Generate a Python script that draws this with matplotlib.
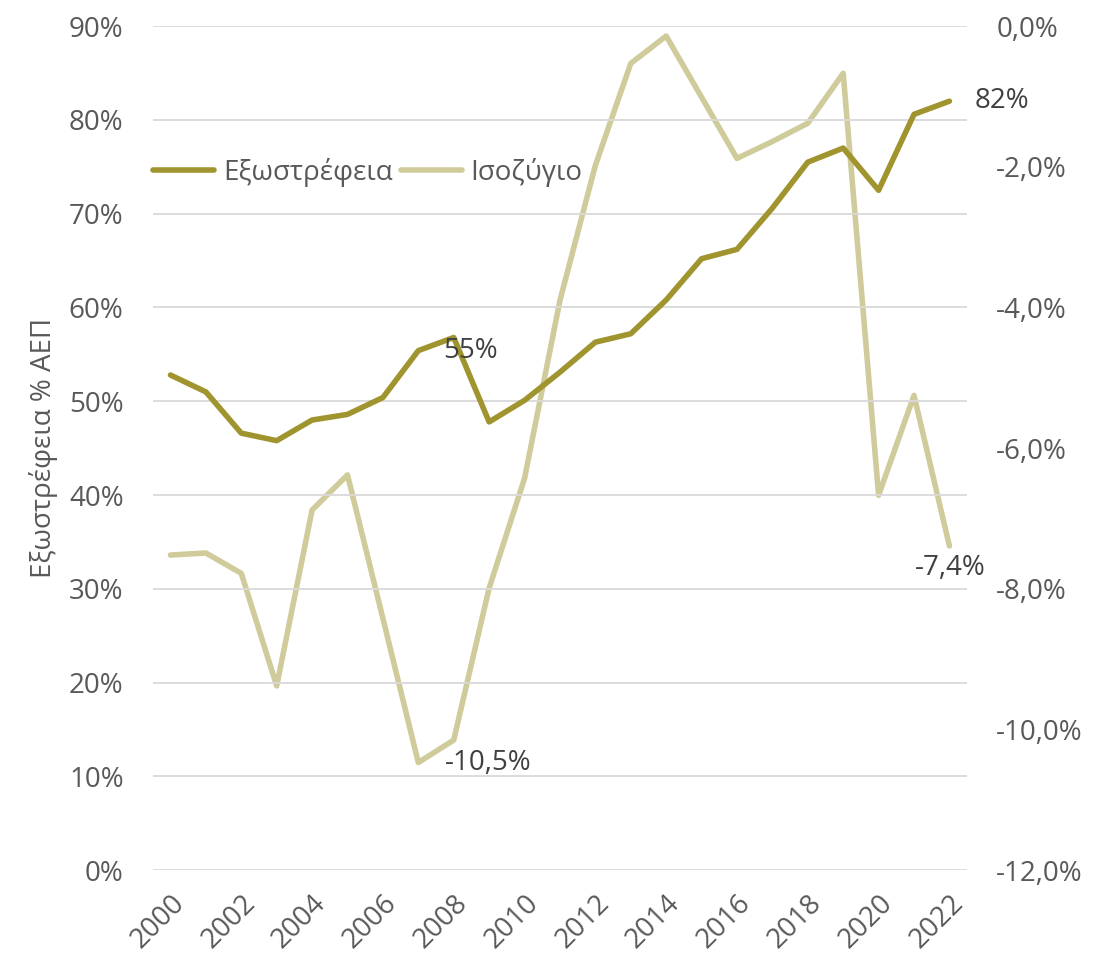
import matplotlib.pyplot as plt
from matplotlib.ticker import FuncFormatter
from matplotlib.lines import Line2D

years = list(range(2000, 2023))
# Εξωστρέφεια (% ΑΕΠ), left axis
exports = [52.8, 51.0, 46.6, 45.8, 48.0, 48.6, 50.4, 55.4, 56.8, 47.8, 50.1, 53.1,
           56.3, 57.2, 60.8, 65.2, 66.2, 70.6, 75.5, 77.0, 72.5, 80.6, 82.0]
# Ισοζύγιο (% ΑΕΠ), right axis
balance = [-7.52, -7.49, -7.78, -9.38, -6.88, -6.38, -8.42, -10.47, -10.15, -7.99,
           -6.43, -3.90, -1.98, -0.53, -0.14, -1.01, -1.88, -1.64, -1.38, -0.67,
           -6.67, -5.25, -7.39]

c_dark = '#A0942F'
c_light = '#CFCB9B'
c_text = '#595959'
c_grid = '#D9D9D9'

plt.rcParams['font.family'] = ['Open Sans', 'DejaVu Sans']
fs = 20

fig = plt.figure(figsize=(10.99, 9.69), dpi=100)
ax = fig.add_axes([0.139, 0.102, 0.741, 0.871])
ax2 = ax.twinx()

ax.plot(years, exports, color=c_dark, lw=4, solid_capstyle='round', zorder=3)
ax2.plot(years, balance, color=c_light, lw=4, solid_capstyle='round', zorder=2)
ax.set_zorder(ax2.get_zorder() + 1)
ax.patch.set_visible(False)

ax.set_xlim(1999.5, 2022.5)
ax.set_ylim(0, 90)
ax2.set_ylim(-12, 0)
ax.set_yticks(range(0, 91, 10))
ax2.set_yticks(range(-12, 1, 2))
ax.yaxis.set_major_formatter(FuncFormatter(lambda v, p: f'{v:.0f}%'))
ax2.yaxis.set_major_formatter(FuncFormatter(lambda v, p: f'{v:.1f}%'.replace('.', ',')))
ax.set_xticks(years[::2])
ax.set_xticklabels([str(y) for y in years[::2]], rotation=45, ha='right', rotation_mode='anchor')

ax.grid(axis='y', color=c_grid, lw=1.3)
ax.set_axisbelow(True)
for a in (ax, ax2):
    for s in a.spines.values():
        s.set_visible(False)
    a.tick_params(length=0, colors=c_text, labelsize=fs)
ax.tick_params(axis='y', pad=21)
ax2.tick_params(axis='y', pad=21)
ax.tick_params(axis='x', pad=14)

ax.set_ylabel('Εξωστρέφεια % ΑΕΠ', color=c_text, fontsize=fs, labelpad=8)

# data labels
ax.annotate('55%', xy=(2007, exports[7]), xytext=(52, 0), textcoords='offset pixels',
            ha='center', va='center', color='#404040', fontsize=fs)
ax.annotate('82%', xy=(2022, exports[22]), xytext=(53, 0), textcoords='offset pixels',
            ha='center', va='center', color='#404040', fontsize=fs)
ax2.annotate('-10,5%', xy=(2007, balance[7]), xytext=(70, 0), textcoords='offset pixels',
             ha='center', va='center', color='#404040', fontsize=fs)
ax2.annotate('-7,4%', xy=(2022, balance[22]), xytext=(1, -22), textcoords='offset pixels',
             ha='center', va='center', color='#404040', fontsize=fs)

handles = [Line2D([], [], color=c_dark, lw=4, solid_capstyle='round'),
           Line2D([], [], color=c_light, lw=4, solid_capstyle='round')]
ax.legend(handles, ['Εξωστρέφεια', 'Ισοζύγιο'], loc='center left', bbox_to_anchor=(-0.03, 0.827),
          ncol=2, frameon=False, fontsize=fs, labelcolor=c_text, handlelength=2.2,
          handletextpad=0.3, columnspacing=0.3)

fig.savefig('out.png', dpi=100)
